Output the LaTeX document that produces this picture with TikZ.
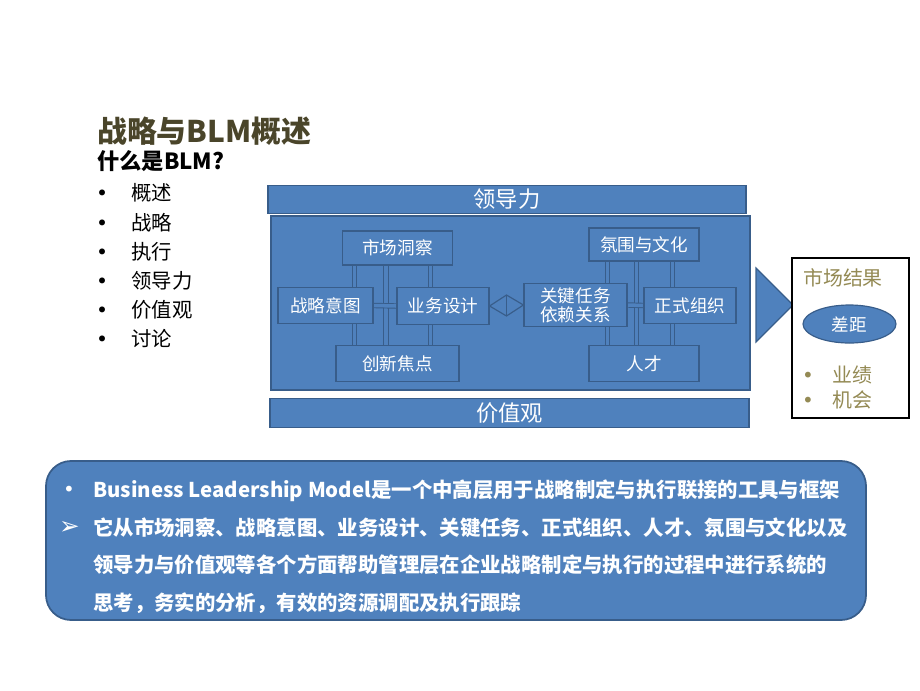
\documentclass[tikz,border=0pt]{standalone}
\usepackage{fontspec}
\setmainfont{Noto Sans CJK SC}
\newfontfamily\dingfont{DejaVu Sans}
\usepackage{tikz}
\usetikzlibrary{shapes.geometric, arrows, calc}
\definecolor{blmblue}{HTML}{4F81BD}
\definecolor{blmedge}{HTML}{385D8A}
\definecolor{titleolive}{HTML}{4A452A}
\definecolor{khaki}{HTML}{948A54}
\pgfdeclarelayer{back}
\pgfsetlayers{back,main}
\newcommand{\dotmark}{{\dingfont •}}
\tikzstyle{bar} = [rectangle, draw=blmedge, fill=blmblue, line width=1pt, text=white, font=\fontsize{19}{21}\selectfont]
\tikzstyle{component} = [rectangle, draw=blmedge, fill=blmblue, line width=1pt, minimum height=1.1cm, text=white, align=center, font=\fontsize{15}{16}\selectfont]
\tikzstyle{link} = [draw=blmedge, line width=0.8pt, double=blmblue, double distance=3pt]
\tikzstyle{joint} = [draw=blmedge, fill=blmblue, line width=1pt]
\tikzstyle{plain} = [anchor=west, inner sep=0pt]
\tikzstyle{item} = [plain, font=\fontsize{17.4}{20}\selectfont]
\tikzstyle{result} = [plain, text=khaki, font=\fontsize{17}{20}\selectfont]
\tikzstyle{note} = [plain, text=white, font=\bfseries\fontsize{17.4}{20}\selectfont]

\begin{document}
\begin{tikzpicture}[x=0.03cm, y=-0.03cm]
    \useasboundingbox (0,0) rectangle (920,690);

    % heading and list
    \node (title) [plain, text=titleolive, font=\bfseries\fontsize{25.5}{30}\selectfont] at (97,131) {战略与BLM概述};
    \node (what) [plain, font=\bfseries\fontsize{19}{22}\selectfont] at (97,161) {什么是BLM?};
    \node (i1) [item] at (96,193) {\makebox[1.05cm][l]{\dotmark}概述};
    \node (i2) [item] at (96,223) {\makebox[1.05cm][l]{\dotmark}战略};
    \node (i3) [item] at (96,252) {\makebox[1.05cm][l]{\dotmark}执行};
    \node (i4) [item] at (96,281) {\makebox[1.05cm][l]{\dotmark}领导力};
    \node (i5) [item] at (96,310) {\makebox[1.05cm][l]{\dotmark}价值观};
    \node (i6) [item] at (96,339) {\makebox[1.05cm][l]{\dotmark}讨论};

    % model
    \node (lead) [bar, minimum width=14.34cm, minimum height=0.69cm] at (507,199.5) {领导力};
    \node (value) [bar, minimum width=14.37cm, minimum height=0.72cm] at (509.5,413) {价值观};

    \node (insight) [component, minimum width=3.3cm, minimum height=1.02cm] at (397.5,248) {市场洞察};
    \node (intent) [component, minimum width=2.85cm] at (325.5,305.5) {战略意图};
    \node (design) [component, minimum width=2.76cm] at (443,306) {业务设计};
    \node (innov) [component, minimum width=3.69cm] at (397.5,363.5) {创新焦点};

    \node (climate) [component, minimum width=3.3cm, minimum height=0.99cm] at (644,244.5) {氛围与文化};
    \node (task) [component, minimum width=3.09cm] at (575.5,305) {关键任务\\依赖关系};
    \node (org) [component, minimum width=2.76cm] at (690,305.5) {正式组织};
    \node (talent) [component, minimum width=3.3cm] at (644,363.5) {人才};

    \begin{pgfonlayer}{back}
        \node (core) [rectangle, draw=blmedge, fill=blmblue, line width=1.2pt, minimum width=14.37cm, minimum height=5.22cm] at (510.5,303) {};
        \draw [link] ($(insight.south)+(-43,0)$) -- ($(innov.north)+(-43,0)$);
        \draw [link] ($(insight.south)+(-11.5,0)$) -- ($(innov.north)+(-11.5,0)$);
        \draw [link] ($(insight.south)+(33,0)$) -- ($(innov.north)+(33,0)$);
        \draw [link] (intent.east) -- (design.west);
        \draw [link] ($(climate.south)+(-36.5,0)$) -- ($(talent.north)+(-36.5,0)$);
        \draw [link] ($(climate.south)+(-7.5,0)$) -- ($(talent.north)+(-7.5,0)$);
        \draw [link] ($(climate.south)+(28.5,0)$) -- ($(talent.north)+(28.5,0)$);
        \draw [link] (task.east) -- (org.west);
    \end{pgfonlayer}

    \coordinate (mid) at ($(design.east)!0.5!(task.west)$);
    \draw [joint] (design.east) -- ($(mid)+(0,-10.5)$) -- (task.west) -- ($(mid)+(0,10.5)$) -- cycle;
    \draw [joint] ($(mid)+(0,-10.5)$) -- ($(mid)+(0,10.5)$);

    % outcome
    \draw [joint] (756,268) -- (793,305) -- (756,342) -- cycle;
    \node (market) [rectangle, draw=black, line width=1.2pt, fill=white, minimum width=3.51cm, minimum height=4.8cm] at (850.5,338) {};
    \node (mtitle) [result] at (803,278) {市场结果};
    \node (gap) [ellipse, draw=blmedge, fill=blmblue, line width=1pt, text=white, minimum width=2.79cm, minimum height=1.14cm, font=\fontsize{15}{17}\selectfont] at (849.5,324) {差距};
    \node (perf) [result] at (802,375) {\makebox[0.9cm][l]{\dotmark}业绩};
    \node (chance) [result] at (802,400) {\makebox[0.9cm][l]{\dotmark}机会};

    % summary
    \node (summary) [rectangle, rounded corners=0.75cm, draw=blmedge, fill=blmblue, line width=1.5pt, minimum width=24.6cm, minimum height=4.77cm] at (456,540.5) {};
    \node (m1) [note, font=\dingfont\fontsize{17}{20}\selectfont] at (63,491) {•};
    \node (m2) [note, font=\dingfont\fontsize{21}{24}\selectfont] at (59,528) {➢};
    \node (l1) [note] at (93,491) {Business Leadership Model是一个中高层用于战略制定与执行联接的工具与框架};
    \node (l2) [note] at (93,528) {它从市场洞察、战略意图、业务设计、关键任务、正式组织、人才、氛围与文化以及};
    \node (l3) [note] at (93,565) {领导力与价值观等各个方面帮助管理层在企业战略制定与执行的过程中进行系统的};
    \node (l4) [note] at (93,603) {思考，务实的分析，有效的资源调配及执行跟踪};
\end{tikzpicture}
\end{document}
